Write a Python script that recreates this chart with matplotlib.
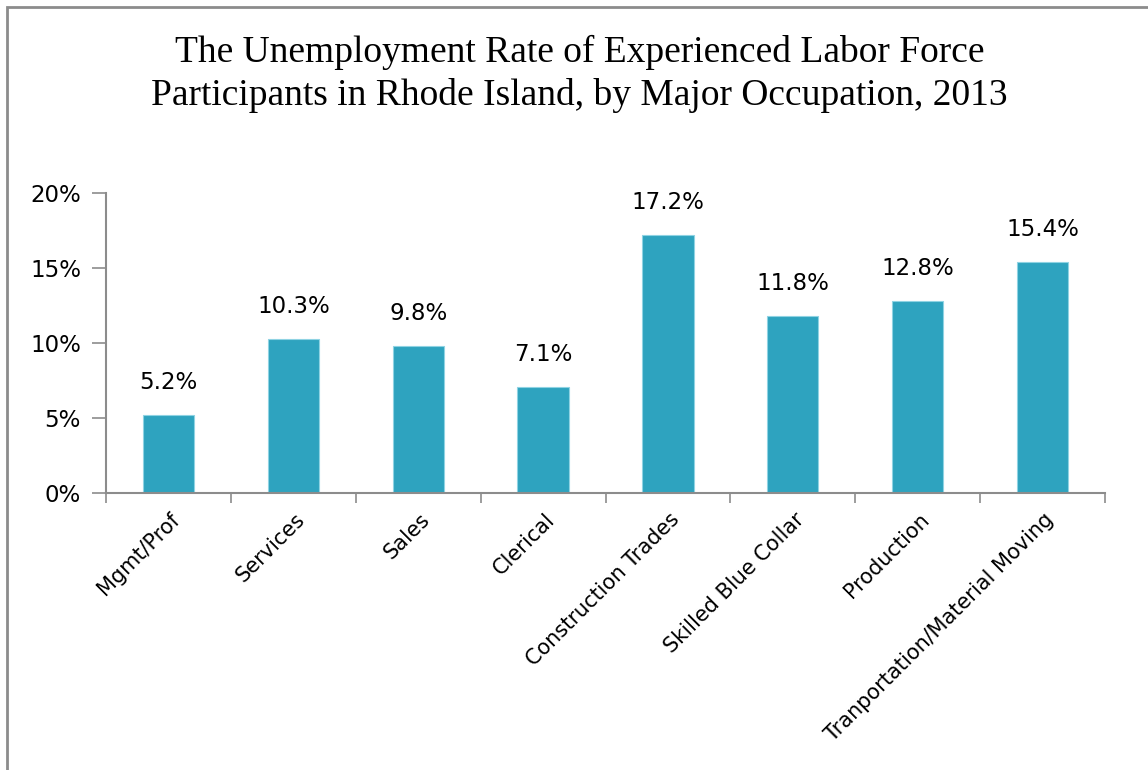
import matplotlib.pyplot as plt
from matplotlib.patches import Rectangle

# data
categories = ['Mgmt/Prof', 'Services', 'Sales', 'Clerical', 'Construction Trades',
              'Skilled Blue Collar', 'Production', 'Tranportation/Material Moving']
rates = [5.2, 10.3, 9.8, 7.1, 17.2, 11.8, 12.8, 15.4]
yticks = [0, 5, 10, 15, 20]

bar_color = '#2ea3bf'
axis_color = '#8c8c8c'
sans = ['DejaVu Sans']

fig = plt.figure(figsize=(11.48, 7.7), dpi=100)
ax = fig.add_axes([106 / 1148, 1 - 493 / 770, 999 / 1148, 300 / 770])

x = list(range(len(categories)))
bars = ax.bar(x, rates, width=0.41, color=bar_color, edgecolor='#8fd3e3', linewidth=0.8)

ax.set_xlim(-0.5, len(categories) - 0.5)
ax.set_ylim(0, 20)
ax.set_yticks(yticks)
ax.set_yticklabels([f'{v}%' for v in yticks], fontsize=16.5, family=sans)

# category ticks sit between bars
ax.set_xticks([i - 0.5 for i in range(len(categories) + 1)])
ax.set_xticklabels([])
ax.tick_params(axis='x', direction='out', length=7, width=1.2, color=axis_color)
ax.tick_params(axis='y', direction='out', length=10, width=1.2, color=axis_color, pad=8)

for i, name in enumerate(categories):
    ax.annotate(name, xy=(i, 0), xycoords=('data', 'axes fraction'),
                xytext=(6, -17), textcoords='offset points',
                rotation=45, rotation_mode='anchor', ha='right', va='center',
                fontsize=15, family=sans)

for b, v in zip(bars, rates):
    ax.annotate(f'{v}%', xy=(b.get_x() + b.get_width() / 2, v),
                xytext=(0, 15), textcoords='offset points',
                ha='center', va='bottom', fontsize=16.5, family=sans)

for side in ['top', 'right']:
    ax.spines[side].set_visible(False)
for side in ['left', 'bottom']:
    ax.spines[side].set_color(axis_color)
    ax.spines[side].set_linewidth(1.5)

fig.text(0.505, 1 - 74 / 770,
         'The Unemployment Rate of Experienced Labor Force\n'
         'Participants in Rhode Island, by Major Occupation, 2013',
         ha='center', va='center', fontsize=27, family='Liberation Serif',
         linespacing=1.27)

# outer chart frame (right and bottom edges fall outside the picture)
fig.patches.append(Rectangle((7 / 1148, -0.05), 1.1, 1 - 7 / 770 + 0.05,
                             transform=fig.transFigure, fill=False,
                             edgecolor=axis_color, linewidth=2))

plt.savefig('out.png', dpi=100)
